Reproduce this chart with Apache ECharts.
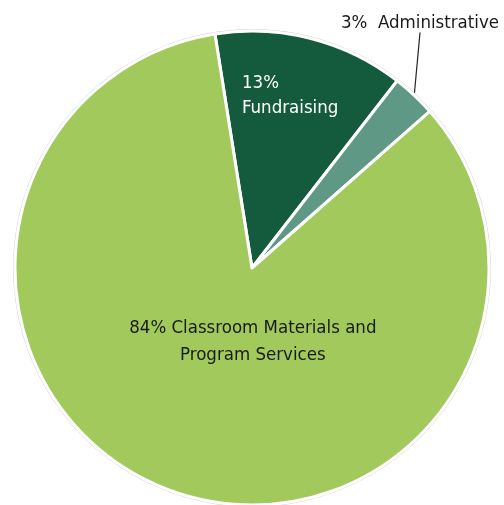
<!DOCTYPE html>
<html>
<head>
<meta charset="utf-8">
<script src="https://cdn.jsdelivr.net/npm/echarts@6/dist/echarts.min.js"></script>
<style>
html,body{margin:0;padding:0;background:#fff;}
#c{width:504px;height:505px;}
</style>
</head>
<body>
<div id="c"></div>
<script>
const categories = ['Fundraising', 'Administrative', 'Classroom Materials and\nProgram Services'];
const values = [13, 3, 84];
const colors = ['#145b3d', '#5f9884', '#a2c95c'];

const FONT = '"DejaVu Sans Condensed", "Liberation Sans Narrow", sans-serif';

const chart = echarts.init(document.getElementById('c'), null, {renderer: 'canvas'});
const center = [252, 268];
const R = 237;

const data = categories.map((name, i) => {
  const d = {name, value: values[i], itemStyle: {color: colors[i]}};
  if (i === 0) {
    d.label = {color: '#ffffff', lineHeight: 25,
      formatter: p => p.value + '%\n' + p.name};
  } else if (i === 1) {
    d.label = {color: '#1a1a1a', position: 'outside', overflow: 'none', width: 200,
      padding: [0, 0, 14, 0],
      formatter: p => p.value + '%  ' + p.name};
    d.labelLine = {show: true, length: 0, length2: 0, lineStyle: {color: '#222', width: 1.2}};
  } else {
    d.label = {color: '#1a1a1a', align: 'center', offset: [42, -41], lineHeight: 27,
      formatter: p => p.value + '% ' + p.name};
  }
  return d;
});

chart.setOption({
  animation: false,
  backgroundColor: '#ffffff',
  series: [
    {
      type: 'pie',
      silent: true,
      center: center,
      radius: [R - 1, R + 2],
      label: {show: false},
      labelLine: {show: false},
      data: [{value: 1, itemStyle: {color: '#d9d9d9'}}]
    },
    {
      type: 'pie',
      center: center,
      radius: [0, R],
      startAngle: 99,
      clockwise: true,
      itemStyle: {borderColor: '#ffffff', borderWidth: 3},
      label: {show: true, position: 'inside', fontFamily: FONT, fontSize: 18.5},
      labelLine: {show: false},
      labelLayout: function (p) {
        if (p.dataIndex === 0) {
          return {x: 242, y: 96, align: 'left', verticalAlign: 'middle'};
        }
        if (p.dataIndex === 1) {
          return {x: 420, y: 23, align: 'center', verticalAlign: 'middle'};
        }
        return {};
      },
      data: data
    }
  ]
});
</script>
</body>
</html>
